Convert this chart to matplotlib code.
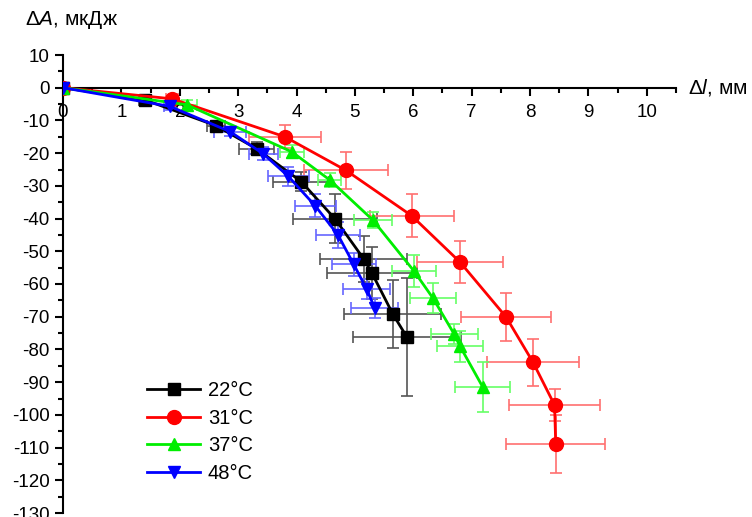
import numpy as np
import matplotlib
matplotlib.use("Agg")
import matplotlib.pyplot as plt
from matplotlib.ticker import MultipleLocator

plt.rcParams["font.family"] = ["Liberation Sans", "DejaVu Sans"]
plt.rcParams["axes.unicode_minus"] = False
plt.rcParams["mathtext.fontset"] = "custom"
plt.rcParams["mathtext.rm"] = "Liberation Sans"
plt.rcParams["mathtext.it"] = "Liberation Sans:italic"

LABELS = ["22°C", "31°C", "37°C", "48°C"]
COLORS = ["#000000", "#ff0000", "#00ee00", "#0000ff"]
ERR_COLORS = ["#555555", "#ff7070", "#66ff66", "#6666ff"]
MARKERS = ["s", "o", "^", "v"]

# 22°C
x22 = [0, 1.40, 2.62, 3.32, 4.08, 4.66, 5.15, 5.29, 5.65, 5.89]
y22 = [0, -3.7, -11.6, -18.7, -28.7, -40.1, -52.3, -56.6, -69.2, -76.2]
xe22 = [0, 0.10, 0.15, 0.30, 0.48, 0.72, 0.74, 0.77, 0.83, 0.92]
ye22 = [0, 1.0, 1.5, 2.0, 3.0, 7.5, 7.0, 8.0, 10.5, 18.0]

# 31°C
x31 = [0, 1.87, 3.80, 4.85, 5.97, 6.80, 7.59, 8.05, 8.42, 8.44]
y31 = [0, -3.4, -15.0, -25.3, -39.1, -53.3, -70.1, -83.9, -97.0, -109.0]
xe31 = [0, 0.10, 0.62, 0.72, 0.72, 0.73, 0.77, 0.78, 0.78, 0.85]
ye31 = [0, 1.0, 3.5, 5.7, 6.6, 6.5, 7.2, 7.2, 5.0, 8.9]

# 37°C
x37 = [0, 2.12, 3.92, 4.57, 5.31, 6.01, 6.34, 6.70, 6.80, 7.19]
y37 = [0, -5.2, -19.6, -28.2, -40.5, -56.0, -64.4, -75.3, -79.0, -91.5]
xe37 = [0, 0.17, 0.21, 0.20, 0.33, 0.38, 0.40, 0.40, 0.40, 0.47]
ye37 = [0, 1.5, 2.0, 2.0, 2.5, 5.0, 4.6, 3.0, 4.7, 7.6]

# 48°C
x48 = [0, 1.83, 2.86, 3.43, 3.86, 4.32, 4.71, 4.98, 5.20, 5.34]
y48 = [0, -5.7, -13.4, -20.2, -27.1, -36.1, -45.0, -54.0, -61.5, -67.4]
xe48 = [0, 0.10, 0.27, 0.25, 0.35, 0.35, 0.38, 0.38, 0.40, 0.40]
ye48 = [0, 1.0, 1.5, 2.0, 3.0, 3.5, 4.0, 3.5, 3.0, 3.0]

series = [(x22, y22, xe22, ye22), (x31, y31, xe31, ye31),
          (x37, y37, xe37, ye37), (x48, y48, xe48, ye48)]
msizes = [8, 10, 9, 9]

fig = plt.figure(figsize=(7.52, 5.17), dpi=100)
ax = fig.add_axes([63 / 752, 1 - 513 / 517, 613 / 752, 458 / 517])

for (x, y, xe, ye), lab, c, ec, m, ms in zip(series, LABELS, COLORS,
                                             ERR_COLORS, MARKERS, msizes):
    ax.errorbar(x, y, xerr=xe, yerr=ye, fmt="none", ecolor=ec,
                elinewidth=1.2, capsize=4, capthick=1.2, zorder=1)
    ax.plot(x, y, color=c, marker=m, markersize=ms, linewidth=2,
            label=lab, zorder=3)

ax.set_xlim(0, 10.5)
ax.set_ylim(-130, 10)
ax.spines["bottom"].set_position(("data", 0))
ax.spines["top"].set_visible(False)
ax.spines["right"].set_visible(False)
for sp in ("left", "bottom"):
    ax.spines[sp].set_linewidth(1.5)

ax.xaxis.set_major_locator(MultipleLocator(1))
ax.xaxis.set_minor_locator(MultipleLocator(0.5))
ax.yaxis.set_major_locator(MultipleLocator(10))
ax.yaxis.set_minor_locator(MultipleLocator(5))
ax.set_xticks(np.arange(0, 11, 1))
ax.tick_params(which="major", direction="out", length=6, width=1.5,
               labelsize=13.5)
ax.tick_params(which="minor", direction="out", length=3.5, width=1.5)
ax.tick_params(axis="x", pad=6)

fig.text(688 / 752, 1 - 88 / 517, r"$\Delta l$, мм", fontsize=15,
         va="center", ha="left")
fig.text(25 / 752, 1 - 20 / 517, r"$\Delta A$, мкДж", fontsize=15,
         va="center", ha="left")

ax.legend(loc="upper left", bbox_to_anchor=(0.108, 0.327), frameon=False,
          fontsize=14.5, handlelength=2.6, labelspacing=0.42,
          handletextpad=0.4)

fig.savefig("out.png", dpi=100)
